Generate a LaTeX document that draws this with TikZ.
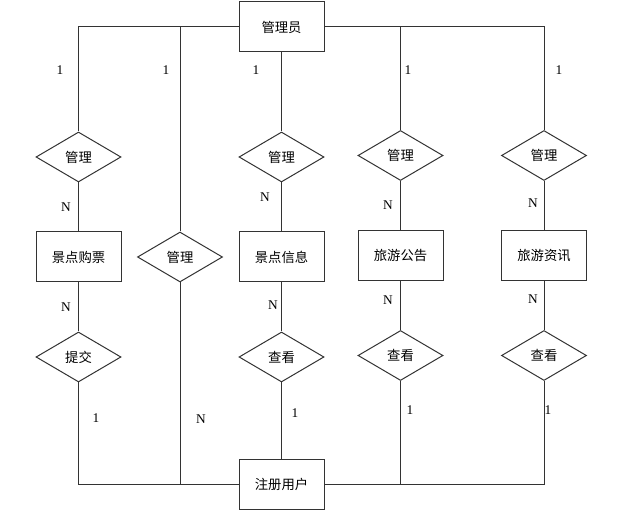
\documentclass[tikz,border=0pt]{standalone}
\usepackage{fontspec}
\setmainfont{Liberation Serif}
\newfontfamily\cjk{Noto Sans CJK SC}
\usetikzlibrary{shapes.geometric}
\begin{document}
\begin{tikzpicture}[x=0.75pt,y=-0.75pt,
  ent/.style={draw=black!80,line width=0.75pt,minimum width=63.75pt,minimum height=37.5pt,inner sep=0pt,font=\cjk\fontsize{10pt}{12pt}\selectfont},
  rel/.style={draw=black!80,line width=0.75pt,diamond,aspect=1.7,minimum width=63.75pt,minimum height=37.5pt,inner sep=0pt,font=\cjk\fontsize{10pt}{12pt}\selectfont},
  con/.style={draw=black!80,line width=0.75pt},
  card/.style={font=\fontsize{10pt}{11pt}\selectfont,inner sep=0pt}]
\useasboundingbox (0,0) rectangle (628,516);
% entities
\node[ent] (admin) at (281.5,27) {管理员};
\node[ent] (ticket) at (78.5,257) {景点购票};
\node[ent] (spot) at (281.5,257) {景点信息};
\node[ent] (notice) at (400.5,255.5) {旅游公告};
\node[ent] (news) at (544,255.5) {旅游资讯};
\node[ent] (user) at (281.5,484) {注册用户};
% relationships
\node[rel] (m1) at (78.5,157) {管理};
\node[rel] (m3) at (281.5,157) {管理};
\node[rel] (m4) at (400.5,155.5) {管理};
\node[rel] (m5) at (544,155.5) {管理};
\node[rel] (m2) at (180,257) {管理};
\node[rel] (sub) at (78.5,357) {提交};
\node[rel] (v3) at (281.5,357) {查看};
\node[rel] (v4) at (400.5,355.5) {查看};
\node[rel] (v5) at (544,355.5) {查看};
% connectors
\draw[con] (admin.west) -| (m1.north);
\draw[con] (m2.north) -- (m2.north |- admin.west);
\draw[con] (admin.south) -- (m3.north);
\draw[con] (admin.east) -| (m4.north);
\draw[con] (admin.east) -| (m5.north);
\draw[con] (m1.south) -- (ticket.north);
\draw[con] (m3.south) -- (spot.north);
\draw[con] (m4.south) -- (notice.north);
\draw[con] (m5.south) -- (news.north);
\draw[con] (ticket.south) -- (sub.north);
\draw[con] (spot.south) -- (v3.north);
\draw[con] (notice.south) -- (v4.north);
\draw[con] (news.south) -- (v5.north);
\draw[con] (user.west) -| (sub.south);
\draw[con] (user.west) -| (m2.south);
\draw[con] (user.north) -- (v3.south);
\draw[con] (user.east) -| (v4.south);
\draw[con] (user.east) -| (v5.south);
% cardinalities
\node[card] (c1) at (60,70) {1};
\node[card] (c2) at (166,70) {1};
\node[card] (c3) at (256,70) {1};
\node[card] (c4) at (408,70) {1};
\node[card] (c5) at (559,70) {1};
\node[card] (n1) at (66,207) {N};
\node[card] (n3) at (265,197) {N};
\node[card] (n4) at (388,205) {N};
\node[card] (n5) at (533,203) {N};
\node[card] (n6) at (66,307) {N};
\node[card] (n7) at (273,305) {N};
\node[card] (n8) at (388,300) {N};
\node[card] (n9) at (533,299) {N};
\node[card] (b1) at (96,418) {1};
\node[card] (b3) at (295,413) {1};
\node[card] (b4) at (410,410) {1};
\node[card] (b5) at (548,410) {1};
\node[card] (n2) at (201,419) {N};
\end{tikzpicture}
\end{document}
